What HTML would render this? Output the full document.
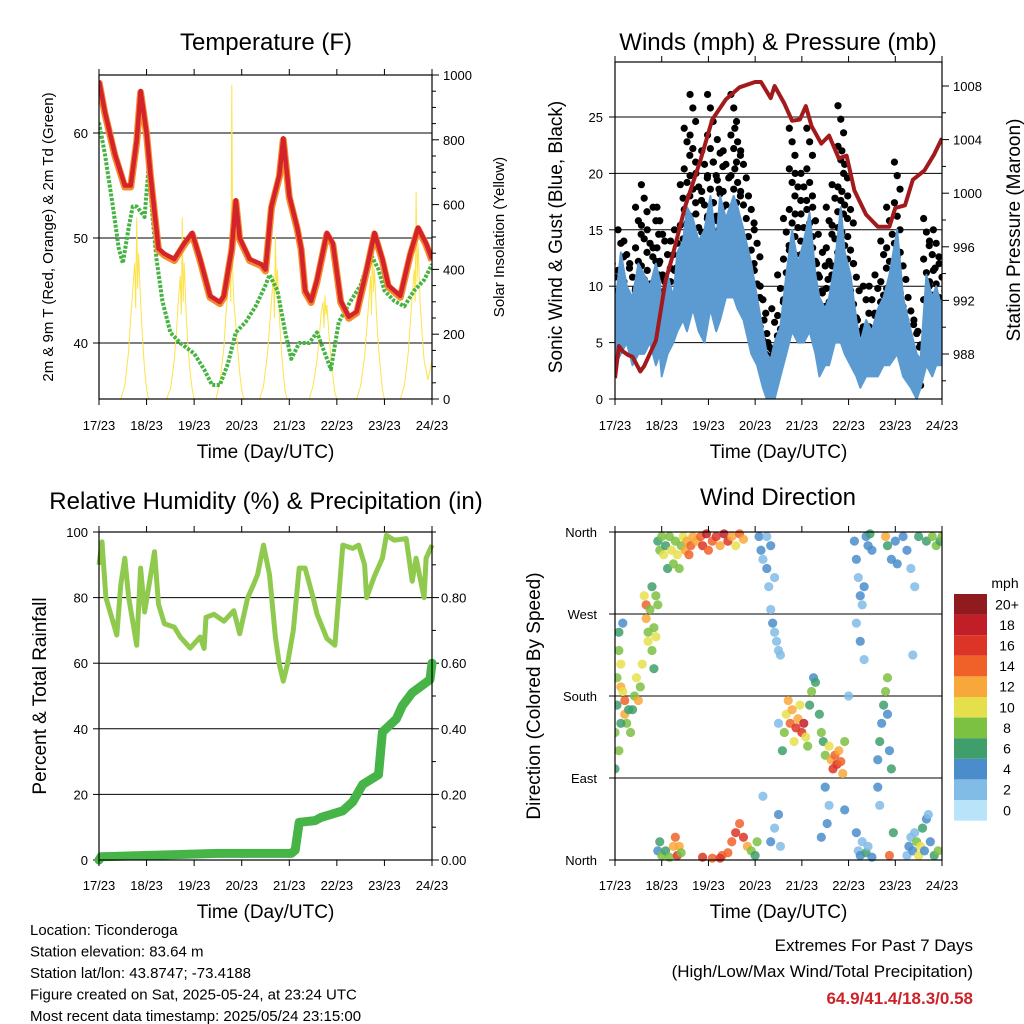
<!DOCTYPE html>
<html><head><meta charset="utf-8">
<style>
html,body{margin:0;padding:0;background:#fff;}
svg{display:block;font-family:"Liberation Sans",Arial,sans-serif;}
</style></head>
<body>
<svg id="root" width="1024" height="1024" viewBox="0 0 1024 1024" xmlns="http://www.w3.org/2000/svg"></svg>
<script>
// ---------- DATA ----------
const dayLabels = ["17/23","18/23","19/23","20/23","21/23","22/23","23/23","24/23"];
// Temperature panel
const tempHours = [0,3,8,13,16,19,21,24,26,30,33,38,43,47,51,56,61,63,67,69,71,76,82,84,87,91,93,96,100,102,104,107,110,115,118,122,126,130,135,139,143,146,152,157,161,165,168];
const tempT = [65,62,58,55,55,59.3,64,60,56,49,48.5,48,49.5,50.5,48,44.5,43.9,44.5,49,53.6,50,48,47.5,47,53,56,59.5,54,51,49,45,44,46,50.5,49.5,44,42.5,43,47,50.5,48,45.5,44.5,48.5,51,49.5,48];
const dewHours = [0,3,7,10,12,15,17,19,23,25,27,29,32,36,41,48,53,57,61,65,69,74,79,84,86,90,94,97,101,106,110,117,121,127,132,137,141,144,149,154,159,164,168];
const dewTd = [61,58,53,49,47.6,51,53,53,52,56.8,52,48,44,41,40,39,37.5,36,36,38,41,42,43.5,45.5,46.5,45,41,38.5,40,40,41,37.5,42,44,45.5,48.5,47,45,44,43.5,45,46,47.5];
const solarHours = [11,13,15,16,17,18,18.5,19,19.5,20,21,22,23,24,25, 34,36,38,39,40,41,41.5,42,42.5,43,44,45,46,47,48, 59,61,63,64,65,66,66.5,67,67.5,68,69,70,71,72,73, 81,83,85,86,87,88,88.5,89,89.5,90,91,92,93,94,95, 106,108,110,111,112,113,113.5,114,114.5,115,116,117,118,119,120, 130,132,134,135,136,137,137.5,138,138.5,139,140,141,142,143,144, 152,154,156,157,158,159,159.5,160,160.5,161,162,163,164,166,168];
const solarVals = [0,40,150,250,330,420,280,560,340,450,300,180,90,30,0, 0,30,120,200,300,380,260,560,300,420,260,150,80,30,0, 0,50,160,260,330,420,300,970,380,300,230,150,80,30,0, 0,40,140,220,300,380,250,500,330,400,250,150,80,20,0, 0,40,120,180,260,300,220,320,260,290,200,130,70,20,0, 0,40,130,210,290,380,260,520,330,400,260,160,90,30,0, 0,40,140,230,320,400,300,640,360,480,300,200,120,60,120];
// Winds panel
const presHours = [0,2,4,7,9,13,15,21,26,29,36,44,50,57,64,72,75,80,82,87,91,95,98,101,106,110,115,119,123,129,135,141,144,149,153,159,164,168];
const presMb = [986.2,988.6,988.2,987.9,987.8,986.7,987.1,989,993.5,995,999,1002.5,1005.5,1007,1007.9,1008.3,1008.3,1007.1,1008,1006.7,1005.4,1005.5,1006.5,1005,1003.7,1004.3,1002.6,1002.8,1000.2,998.4,997.5,997.5,998.9,999.1,1001,1001.7,1002.9,1004.1];
const windHours = [0,3,6,9,12,15,18,21,23,24,27,30,32,35,37,40,43,46,49,52,54,57,61,63,66,70,73,76,78,80,82,85,88,91,94,97,100,103,105,108,110,113,116,118,121,124,126,129,132,135,138,141,145,148,152,155,157,160,163,165,168];
const windLo = [3,4,5,3,4,4,5,3,4,2,4,5,6,7,6,8,6,5,8,6,7,9,9,8,7,4,3,1,0,0,0,2,4,6,5,5,6,4,2,3,3,5,5,4,3,2,1,2,2,2,3,3,4,2,1,0,1,3,2,3,3];
const windHi = [8,13,10,9,12,11,10,12,10.5,8,11,9,13,14,17,16,14,15,18,14,18,16,18,17,15,12,9,6,4,3.5,5,6.4,11,15,12,14,16.5,11,9,8,9,12,17,13,11,7,5,7,6,8,9,11,15,9,6,4,3.5,11,9,10,8];
const windGust = [12,15,14,12,17,19,15,17,17,12,14,14,15,19,24,27,20,22,27,21,23,22,27,24,22,18,15,10,7,5,8,11,16,24,20,20,24,17,12,13,17,19,26,22,18,12,7,10,10,11,14,17,21,13,9,7,6,16,14,15,12];
// RH & precipitation panel
const rhHours = [0,1.5,3.5,9,11,13,15,19,21,23,28,30,33,38,41,46,51,53,54,58,63,68,71,75,78,80,83,86,89,91,93,95,98,101,104,108,110,115,119,123,128,131,134,135,139,143,145,149,155,158,160,164,165,168];
const rhVals = [90,97,80,68.6,84,92,80,65.5,89,75.6,94,78,72,71,68,64.6,68,64.5,74,74.9,72.8,76,69,80,84,87,96,87,68,59.5,54.5,59.5,70,89,89,80,75,67.5,65.5,96,95,96,90,80,86.6,92,99,97.5,98,85,92,80,92,96];
const rainHours = [0,1,30,60,97,99,101,109,112,123,128,133,141,143,150,153,158,167,168];
const rainVals = [0,0.01,0.015,0.02,0.02,0.03,0.115,0.12,0.13,0.15,0.177,0.23,0.26,0.39,0.43,0.47,0.51,0.55,0.60];
// Wind direction panel
const dirHours = [1,1,2,2,3,3,4,5,5,6,7,8,9,10,11,12,13,14,4,0,0,2,3, 15,16,16,17,17,18,19,20,20,21,21,22,19, 22,23,24,25,26,27,28,29,30,31,32,33,34,35,36,37,38,39,40, 22,23,24,26,28,30,31,32,33,34, 42,44,45,47,48,50,52,54,56,58,60,62,64,66, 45,50,55,58,60,62,64,66,68,70,72,73,54, 74,75,76,78,79,80,81,82,83,84,85,78,80,82,84,84,82,85,80,76, 86,87,88,89,90,91,92,93,94,95,96,97,98,99,100,101,102,103, 105,106,107,108,110,111,112,113,114,115,116,117,118,108,110,109,106,120,118, 123,124,125,126,127,128,129,130,131,132,124,126,128,125,126,127,129,130,132,124, 135,136,137,138,139,140,141,142,140,135,136,139,140,142,144,145,143,141, 150,151,152,153,154,155,156,157,158,159,160,161,162,164,166,150,152,154,156,160,163,165,167,168,148,153];
const dirDeg = [200,170,230,250,215,190,185,160,175,150,165,140,165,180,200,175,190,215,260,140,100,120,150, 290,265,280,250,240,275,230,210,255,245,290,280,300, 350,340,355,335,345,320,355,340,325,350,335,320,345,355,340,350,335,345,355, 10,20,5,10,3,15,25,5,15,8, 350,355,345,358,340,350,355,345,358,350,355,345,358,352, 3,2,5,8,20,30,40,25,15,10,5,20,2, 355,340,330,320,300,275,260,250,240,230,225,355,345,310,150,50,35,15,20,70, 120,140,160,175,150,165,130,145,155,170,140,150,135,125,170,185,200,195, 160,140,130,115,125,110,100,115,105,120,108,95,130,80,60,40,25,180,55, 350,330,310,290,280,300,355,345,358,340,260,240,220,10,5,20,8,15,3,30, 110,130,150,170,185,160,120,100,200,80,60,355,345,330,350,325,30,5, 5,15,25,10,30,20,5,15,35,10,45,50,20,5,10,340,320,300,355,350,355,345,350,355,355,225];
const dirSpeed = [7,6,8,6,9,12,10,12,13,8,6,7,6,7,10,12,8,9,4,8,6,7,6, 10,12,13,8,9,7,8,6,8,9,7,8,6, 6,7,8,9,6,6,8,9,7,8,10,8,7,9,11,12,13,14,11, 4,5,7,6,8,12,13,15,12,7, 12,14,16,18,14,13,16,12,17,15,12,10,14,12, 16,14,13,14,14,15,14,16,12,8,6,7,16, 4,3,2,3,2,2,3,1,2,1,2,2,3,1,2,3,1,2,3,1, 6,8,9,11,14,12,10,16,12,9,15,17,10,8,6,7,4,6, 6,7,5,8,10,12,15,13,16,11,14,12,8,3,2,3,4,2,4, 3,4,2,3,2,4,3,4,6,3,2,3,1,2,3,2,6,1,4,4, 4,5,4,6,7,4,3,5,8,3,2,12,6,4,3,4,6,14, 2,3,1,4,2,8,10,9,6,4,3,1,4,6,8,4,1,2,6,6,8,7,6,8,3,1];
const speedColors = ["#b9e3f8","#80bce6","#4a8dca","#3f9f6b","#7dc143","#e6df4c","#f8a83a","#f0612a","#dc3527","#c01f28","#8f1b1e"];
const speedLabels = ["0","2","4","6","8","10","12","14","16","18","20+"];

// ---------- HELPERS ----------
const NS = "http://www.w3.org/2000/svg";
const root = document.getElementById("root");
function mk(tag, attrs, parent) {
  const el = document.createElementNS(NS, tag);
  for (const k in attrs) el.setAttribute(k, attrs[k]);
  (parent || root).appendChild(el);
  return el;
}
function txt(s, x, y, size, anchor, parent, extra) {
  const el = mk("text", Object.assign({x: x, y: y, "font-size": size, "text-anchor": anchor || "middle", fill: "#000"}, extra || {}), parent);
  el.textContent = s;
  return el;
}
function linear(d0, d1, r0, r1) { return v => r0 + (v - d0) * (r1 - r0) / (d1 - d0); }

function panelFrame(x0, y0, x1, y1, name) {
  const g = mk("g", {});
  
  
  return g;
}
function drawBox(g, x0, y0, x1, y1) {
  const r = mk("rect", {x: x0, y: y0, width: x1 - x0, height: y1 - y0, fill: "none", stroke: "#000", "stroke-width": 1.2}, g);
  
  
}
function xAxis(g, x0, x1, y0, y1, labelY, titleY) {
  const xs = linear(0, 168, x0, x1);
  for (let i = 0; i < dayLabels.length; i++) {
    const x = xs(i * 24);
    mk("line", {x1: x, x2: x, y1: y1, y2: y1 + 6, stroke: "#000", "stroke-width": 1}, g);
    mk("line", {x1: x, x2: x, y1: y0, y2: y0 - 6, stroke: "#000", "stroke-width": 1}, g);
    const t = txt(dayLabels[i], x, labelY, 13, "middle", g);
    
    
  }
  const tt = txt("Time (Day/UTC)", (x0 + x1) / 2, titleY, 19, "middle", g);
  
  
  return xs;
}
function leftTicks(g, vals, labels, ys, x0, x1, grid, labelX) {
  for (let i = 0; i < vals.length; i++) {
    const y = ys(vals[i]);
    if (grid) mk("line", {x1: x0, x2: x1, y1: y, y2: y, stroke: "#000", "stroke-width": 1}, g);
    mk("line", {x1: x0 - 6, x2: x0, y1: y, y2: y, stroke: "#000", "stroke-width": 1}, g);
    const t = txt(labels[i], labelX, y + 5, 13, "end", g);
    
    
  }
}
function rightTicks(g, vals, labels, ys, x1, labelX, minorVals) {
  for (let i = 0; i < vals.length; i++) {
    const y = ys(vals[i]);
    mk("line", {x1: x1, x2: x1 + 7, y1: y, y2: y, stroke: "#000", "stroke-width": 1}, g);
    const t = txt(labels[i], labelX, y + 5, 13, "start", g);
    
    
  }
  (minorVals || []).forEach(v => {
    const y = ys(v);
    mk("line", {x1: x1, x2: x1 + 4, y1: y, y2: y, stroke: "#000", "stroke-width": 1}, g);
  });
}
function rotLabel(g, s, x, y, size, name) {
  const t = txt(s, x, y, size, "middle", g, {transform: "rotate(-90 " + x + " " + y + ")"});
  
  
}
function pathFrom(hours, vals, xs, ys) {
  let d = "";
  for (let i = 0; i < hours.length; i++) d += (i ? "L" : "M") + xs(hours[i]).toFixed(1) + "," + ys(vals[i]).toFixed(1);
  return d;
}

// ---------- PANEL 1: TEMPERATURE ----------
(function () {
  const X0 = 99, X1 = 432, Y0 = 75, Y1 = 399;
  const g = panelFrame(X0, Y0, X1, Y1, "temperature-panel");
  const ys = linear(40, 60, 343, 133);
  const ysSol = linear(0, 1000, Y1, Y0);
  const xs = linear(0, 168, X0, X1);
  leftTicks(g, [40, 50, 60], ["40", "50", "60"], ys, X0, X1, true, 88);
  const solT = [0, 200, 400, 600, 800, 1000];
  rightTicks(g, solT, solT.map(String), ysSol, X1, 443, [50,100,150,250,300,350,450,500,550,650,700,750,850,900,950]);
  const cp = mk("clipPath", {id: "clip1"}, g);
  mk("rect", {x: X0, y: Y0, width: X1 - X0, height: Y1 - Y0}, cp);
  const sol = mk("path", {d: pathFrom(solarHours, solarVals, xs, ysSol), fill: "none", stroke: "#fde34a", "stroke-width": 1, "clip-path": "url(#clip1)"}, g);
  
  
  const dew = mk("path", {d: pathFrom(dewHours, dewTd, xs, ys), fill: "none", stroke: "#45b442", "stroke-width": 4, "stroke-dasharray": "3 1.5", "stroke-linejoin": "round", "clip-path": "url(#clip1)"}, g);
  
  
  const t9 = mk("path", {d: pathFrom(tempHours, tempT, xs, ys), fill: "none", stroke: "#f58a2b", "stroke-width": 7, "stroke-linejoin": "round", transform: "translate(0,1.5)", "clip-path": "url(#clip1)"}, g);
  
  
  const t2 = mk("path", {d: pathFrom(tempHours, tempT, xs, ys), fill: "none", stroke: "#d4232a", "stroke-width": 4.5, "stroke-linejoin": "round", "clip-path": "url(#clip1)"}, g);
  
  
  drawBox(g, X0, Y0, X1, Y1);
  xAxis(g, X0, X1, Y0, Y1, 430, 458);
  const title = txt("Temperature (F)", 266, 50, 24, "middle", g);
  
  
  rotLabel(g, "2m & 9m T (Red, Orange) & 2m Td (Green)", 53, 237, 15, "temperature-y-axis-title");
  rotLabel(g, "Solar Insolation (Yellow)", 504, 237, 15, "solar-y-axis-title");
})();

// ---------- PANEL 2: WINDS ----------
(function () {
  const X0 = 615, X1 = 942, Y0 = 62, Y1 = 399;
  const g = panelFrame(X0, Y0, X1, Y1, "winds-panel");
  const ys = linear(0, 25, Y1, 117);
  const ysP = linear(988, 1008, 354, 86);
  const xs = linear(0, 168, X0, X1);
  leftTicks(g, [0, 5, 10, 15, 20, 25], ["0", "5", "10", "15", "20", "25"], ys, X0, X1, true, 603);
  const pT = [988, 992, 996, 1000, 1004, 1008];
  rightTicks(g, pT, pT.map(String), ysP, X1, 953, [986,990,994,998,1002,1006]);
  const cp = mk("clipPath", {id: "clip2"}, g);
  mk("rect", {x: X0, y: Y0, width: X1 - X0, height: Y1 - Y0}, cp);
  const dg = mk("g", {"clip-path": "url(#clip2)"}, g);
  
  
  for (let i = 0; i < windHours.length; i++) {
    const x = xs(windHours[i]);
    let k = 0;
    for (let v = windGust[i]; v > windHi[i] - 3; v -= 1.2) {
      const dx = (k % 3 - 1) * 2.8;
      const c = mk("circle", {cx: x + dx, cy: ys(v), r: 3.6, fill: "#000"}, dg);
      
      
      k++;
    }
  }
  let d = "";
  for (let i = 0; i < windHours.length; i++) d += (i ? "L" : "M") + xs(windHours[i]).toFixed(1) + "," + ys(windHi[i]).toFixed(1);
  for (let i = windHours.length - 1; i >= 0; i--) d += "L" + xs(windHours[i]).toFixed(1) + "," + ys(windLo[i]).toFixed(1);
  const band = mk("path", {d: d + "Z", fill: "#5b9bd2", stroke: "#5b9bd2", "stroke-width": 2, "stroke-linejoin": "round", "clip-path": "url(#clip2)"}, g);
  
  
  const pr = mk("path", {d: pathFrom(presHours, presMb, xs, ysP), fill: "none", stroke: "#a31a1c", "stroke-width": 4, "stroke-linejoin": "round", "clip-path": "url(#clip2)"}, g);
  
  
  drawBox(g, X0, Y0, X1, Y1);
  xAxis(g, X0, X1, Y0, Y1, 430, 458);
  const title = txt("Winds (mph) & Pressure (mb)", 778, 50, 24, "middle", g);
  
  
  rotLabel(g, "Sonic Wind & Gust (Blue, Black)", 562, 237, 19, "wind-y-axis-title");
  rotLabel(g, "Station Pressure (Maroon)", 1020, 230, 19, "pressure-y-axis-title");
})();

// ---------- PANEL 3: RH & PRECIP ----------
(function () {
  const X0 = 99, X1 = 432, Y0 = 532, Y1 = 860;
  const g = panelFrame(X0, Y0, X1, Y1, "humidity-precip-panel");
  const ys = linear(0, 100, Y1, Y0);
  const ysR = linear(0, 1, Y1, Y0);
  const xs = linear(0, 168, X0, X1);
  leftTicks(g, [0, 20, 40, 60, 80, 100], ["0", "20", "40", "60", "80", "100"], ys, X0, X1, true, 88);
  const rT = [0, 0.2, 0.4, 0.6, 0.8];
  rightTicks(g, rT, rT.map(v => v.toFixed(2)), ysR, X1, 441, [0.1,0.3,0.5,0.7,0.9,1.0]);
  const rh = mk("path", {d: pathFrom(rhHours, rhVals, xs, ys), fill: "none", stroke: "#8fca4f", "stroke-width": 5, "stroke-linejoin": "round"}, g);
  
  
  const rn = mk("path", {d: pathFrom(rainHours, rainVals, xs, ysR), fill: "none", stroke: "#46b446", "stroke-width": 9, "stroke-linejoin": "round", "stroke-linecap": "round"}, g);
  
  
  drawBox(g, X0, Y0, X1, Y1);
  xAxis(g, X0, X1, Y0, Y1, 890, 918);
  const title = txt("Relative Humidity (%) & Precipitation (in)", 266, 509, 24, "middle", g);
  
  
  rotLabel(g, "Percent & Total Rainfall", 46, 696, 19, "humidity-y-axis-title");
})();

// ---------- PANEL 4: WIND DIRECTION ----------
(function () {
  const X0 = 615, X1 = 942, Y0 = 532, Y1 = 860;
  const g = panelFrame(X0, Y0, X1, Y1, "wind-direction-panel");
  const ys = linear(0, 360, Y1, Y0);
  const xs = linear(0, 168, X0, X1);
  leftTicks(g, [0, 90, 180, 270, 360], ["North", "East", "South", "West", "North"], ys, X0, X1, true, 597);
  const cp = mk("clipPath", {id: "clip4"}, g);
  mk("rect", {x: X0, y: Y0 - 5, width: X1 - X0, height: Y1 - Y0 + 10}, cp);
  const pg = mk("g", {"clip-path": "url(#clip4)"}, g);
  
  
  for (let i = 0; i < dirHours.length; i++) {
    const ci = Math.min(10, Math.max(0, Math.round(dirSpeed[i] / 2)));
    const c = mk("circle", {cx: xs(dirHours[i]), cy: ys(dirDeg[i]), r: 4.6, fill: speedColors[ci], "fill-opacity": 0.85}, pg);
    
    
  }
  drawBox(g, X0, Y0, X1, Y1);
  xAxis(g, X0, X1, Y0, Y1, 890, 918);
  const title = txt("Wind Direction", 778, 505, 24, "middle", g);
  
  
  rotLabel(g, "Direction (Colored By Speed)", 540, 696, 19, "direction-y-axis-title");
  const cb = mk("g", {}, g);
  
  
  const unit = txt("mph", 1005, 588, 14, "middle", cb);
  
  
  const top = 594, h = 20.6;
  for (let i = 0; i < 11; i++) {
    const idx = 10 - i;
    const r = mk("rect", {x: 954, y: top + i * h, width: 33, height: h, fill: speedColors[idx]}, cb);
    
    
    const t = txt(speedLabels[idx], 1007, top + i * h + h / 2 + 5, 14, "middle", cb);
    
    
  }
})();

// ---------- FOOTER TEXT ----------
const info = ["Location: Ticonderoga", "Station elevation: 83.64 m", "Station lat/lon: 43.8747; -73.4188", "Figure created on Sat, 2025-05-24, at 23:24 UTC", "Most recent data timestamp: 2025/05/24 23:15:00"];
for (let i = 0; i < info.length; i++) {
  const t = txt(info[i], 30, 935 + i * 21.5, 15, "start");
  
  
}
const e1 = txt("Extremes For Past 7 Days", 973, 951, 17, "end");


const e2 = txt("(High/Low/Max Wind/Total Precipitation)", 973, 977, 17, "end");


const e3 = txt("64.9/41.4/18.3/0.58", 973, 1004, 17, "end", null, {fill: "#cc2229", "font-weight": "bold"});


</script>
</body></html>
